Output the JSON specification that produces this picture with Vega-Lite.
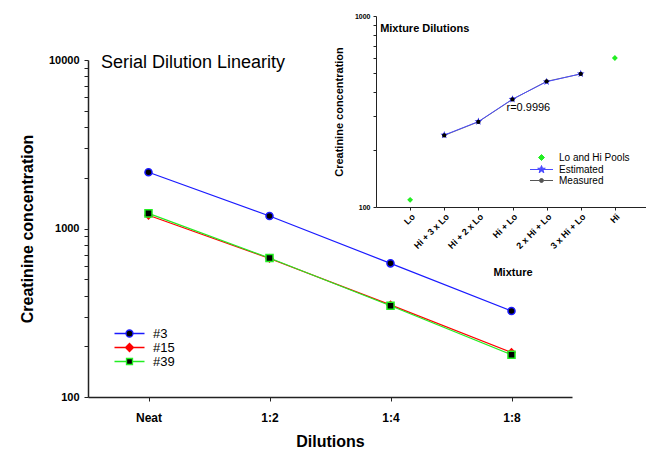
{
  "$schema": "https://vega.github.io/schema/vega-lite/v6.json",
  "width": 558,
  "height": 381,
  "autosize": {"type": "none"},
  "padding": {"left": 88, "top": 16, "right": 0, "bottom": 52},
  "background": "white",
  "title": {
    "text": "Serial Dilution Linearity",
    "anchor": "start",
    "frame": "group",
    "font": "Liberation Sans",
    "fontSize": 18,
    "fontWeight": "normal",
    "color": "black",
    "baseline": "middle",
    "offset": 0,
    "dx": 13,
    "dy": 69
  },
  "datasets": {
    "dil": [
      {"series": "#3", "dilution": "Neat", "value": 2157},
      {"series": "#3", "dilution": "1:2", "value": 1186},
      {"series": "#3", "dilution": "1:4", "value": 621},
      {"series": "#3", "dilution": "1:8", "value": 324},
      {"series": "#15", "dilution": "Neat", "value": 1198},
      {"series": "#15", "dilution": "1:2", "value": 664},
      {"series": "#15", "dilution": "1:4", "value": 352},
      {"series": "#15", "dilution": "1:8", "value": 184},
      {"series": "#39", "dilution": "Neat", "value": 1230},
      {"series": "#39", "dilution": "1:2", "value": 668},
      {"series": "#39", "dilution": "1:4", "value": 348},
      {"series": "#39", "dilution": "1:8", "value": 178}
    ],
    "mix": [
      {"kind": "Lo and Hi Pools", "mix": "Lo", "value": 109},
      {"kind": "Lo and Hi Pools", "mix": "Hi", "value": 603},
      {"kind": "Estimated", "mix": "Hi + 3 x Lo", "value": 238},
      {"kind": "Estimated", "mix": "Hi + 2 x Lo", "value": 280},
      {"kind": "Estimated", "mix": "Hi + Lo", "value": 367},
      {"kind": "Estimated", "mix": "2 x Hi + Lo", "value": 453},
      {"kind": "Estimated", "mix": "3 x Hi + Lo", "value": 498},
      {"kind": "Measured", "mix": "Hi + 3 x Lo", "value": 237},
      {"kind": "Measured", "mix": "Hi + 2 x Lo", "value": 279},
      {"kind": "Measured", "mix": "Hi + Lo", "value": 366},
      {"kind": "Measured", "mix": "2 x Hi + Lo", "value": 455},
      {"kind": "Measured", "mix": "3 x Hi + Lo", "value": 497}
    ],
    "notes": [
      {"label": "Mixture Dilutions", "mix": "Lo", "value": 855, "style": "head"},
      {"label": "r=0.9996", "mix": "Hi + Lo", "value": 330, "style": "note"}
    ]
  },
  "layer": [
    {
      "data": {"name": "dil"},
      "encoding": {
        "x": {
          "field": "dilution",
          "type": "ordinal",
          "scale": {"type": "point", "domain": ["Neat", "1:2", "1:4", "1:8"], "range": [0, 484], "padding": 0.5},
          "axis": {
            "orient": "bottom",
            "title": "Dilutions",
            "labelAngle": 0,
            "labelFontSize": 12,
            "labelPadding": 11,
            "titleFontSize": 16,
            "titlePadding": 10
          }
        },
        "y": {
          "field": "value",
          "type": "quantitative",
          "scale": {"type": "log", "domain": [100, 10000], "range": [381, 44]},
          "axis": {
            "orient": "left",
            "title": "Creatinine concentration",
            "values": [100, 200, 300, 400, 500, 600, 700, 800, 900, 1000, 2000, 3000, 4000, 5000, 6000, 7000, 8000, 9000, 10000],
            "labelExpr": "datum.value == 100 || datum.value == 1000 || datum.value == 10000 ? '' + datum.value : ''",
            "labelOverlap": false,
            "labelFontSize": 11,
            "labelPadding": 5,
            "titleFontSize": 16,
            "titlePadding": 13
          }
        }
      },
      "layer": [
        {
          "mark": {"type": "line", "strokeWidth": 1.2},
          "encoding": {
            "color": {
              "field": "series",
              "type": "nominal",
              "scale": {"domain": ["#3", "#15", "#39"], "range": ["#1a1aff", "#ff0000", "#22ee22"]},
              "legend": {
                "orient": "none",
                "legendX": 35,
                "legendY": 311,
                "title": null,
                "padding": 0,
                "labelFont": "Liberation Sans",
                "labelFontSize": 13,
                "labelColor": "black",
                "labelOffset": 17,
                "rowPadding": -1,
                "symbolSize": 100,
                "symbolStrokeWidth": 1.3,
                "encode": {
                  "symbols": {
                    "update": {
                      "shape": {"signal": "datum.value == '#3' ? 'M-3,0H-0.7M0.7,0H3M0.7,0A0.7,0.7,0,1,1,-0.7,0A0.7,0.7,0,1,1,0.7,0Z' : datum.value == '#15' ? 'M-3,0H-0.8M0.8,0H3M0,-0.8L0.8,0L0,0.8L-0.8,0Z' : 'M-3,0H-0.6M0.6,0H3M-0.6,-0.6H0.6V0.6H-0.6Z'"},
                      "fill": {"signal": "datum.value == '#15' ? '#ff0000' : '#000000'"},
                      "opacity": {"value": 1}
                    }
                  }
                }
              }
            }
          }
        },
        {
          "mark": {"type": "point", "filled": true, "size": 50, "strokeWidth": 1.5, "opacity": 1},
          "encoding": {
            "shape": {"field": "series", "type": "nominal", "scale": {"domain": ["#3", "#15", "#39"], "range": ["circle", "diamond", "square"]}, "legend": null},
            "fill": {"field": "series", "type": "nominal", "scale": {"domain": ["#3", "#15", "#39"], "range": ["#000000", "#ff0000", "#000000"]}, "legend": null},
            "stroke": {"field": "series", "type": "nominal", "scale": {"domain": ["#3", "#15", "#39"], "range": ["#1a1aff", "#ff0000", "#22ee22"]}, "legend": null}
          }
        }
      ]
    },
    {
      "encoding": {
        "x": {
          "field": "mix",
          "type": "ordinal",
          "scale": {"type": "point", "domain": ["Lo", "Hi + 3 x Lo", "Hi + 2 x Lo", "Hi + Lo", "2 x Hi + Lo", "3 x Hi + Lo", "Hi"], "range": [288, 561], "padding": 1},
          "axis": {
            "orient": "bottom",
            "offset": -190,
            "title": "Mixture",
            "labelAngle": -45,
            "labelAlign": "right",
            "labelBaseline": "top",
            "labelFontSize": 9,
            "labelPadding": 2,
            "tickSize": 3,
            "domainWidth": 1,
            "titleFontSize": 11,
            "titlePadding": 16
          }
        },
        "y": {
          "field": "value",
          "type": "quantitative",
          "scale": {"type": "log", "domain": [100, 1000], "range": [191, 0]},
          "axis": {
            "orient": "left",
            "offset": -288,
            "title": "Creatinine concentration",
            "values": [100, 200, 300, 400, 500, 600, 700, 800, 900, 1000],
            "labelExpr": "datum.value == 100 || datum.value == 1000 ? '' + datum.value : ''",
            "labelOverlap": false,
            "labelFontSize": 7,
            "labelPadding": 3,
            "tickSize": 3,
            "domainWidth": 1,
            "titleFontSize": 11,
            "titlePadding": 10
          }
        }
      },
      "layer": [
        {
          "data": {"name": "mix"},
          "transform": [{"filter": "datum.kind == 'Measured'"}],
          "mark": {"type": "line", "strokeWidth": 0.8},
          "encoding": {
            "color": {
              "field": "kind",
              "type": "nominal",
              "scale": {"domain": ["Lo and Hi Pools", "Estimated", "Measured"], "range": ["#22ee22", "#4a4aff", "#555555"]},
              "legend": {
                "orient": "none",
                "legendX": 448,
                "legendY": 136,
                "title": null,
                "padding": 0,
                "labelFont": "Liberation Sans",
                "labelFontSize": 10,
                "labelColor": "black",
                "labelOffset": 12,
                "rowPadding": 0,
                "symbolSize": 100,
                "symbolStrokeWidth": 1,
                "encode": {
                  "symbols": {
                    "update": {
                      "shape": {"signal": "datum.value == 'Lo and Hi Pools' ? 'M0,-0.6L0.6,0L0,0.6L-0.6,0Z' : datum.value == 'Estimated' ? 'M-2.3,0H2.3M0,-0.8L0.188,-0.259L0.761,-0.247L0.304,0.099L0.47,0.647L0,0.32L-0.47,0.647L-0.304,0.099L-0.761,-0.247L-0.188,-0.259Z' : 'M-2.3,0H-0.4M0.4,0H2.3M0.4,0A0.4,0.4,0,1,1,-0.4,0A0.4,0.4,0,1,1,0.4,0Z'"},
                      "fill": {"signal": "datum.value == 'Lo and Hi Pools' ? '#22ee22' : datum.value == 'Estimated' ? '#2020ee' : '#000000'"},
                      "stroke": {"signal": "datum.value == 'Lo and Hi Pools' ? '#22ee22' : datum.value == 'Estimated' ? '#4a4aff' : '#555555'"},
                      "opacity": {"value": 1}
                    }
                  }
                }
              }
            }
          }
        },
        {
          "data": {"name": "mix"},
          "transform": [{"filter": "datum.kind == 'Estimated'"}],
          "mark": {"type": "line", "strokeWidth": 1},
          "encoding": {"color": {"field": "kind", "type": "nominal"}}
        },
        {
          "data": {"name": "mix"},
          "transform": [{"filter": "datum.kind == 'Estimated'"}],
          "mark": {"type": "point", "shape": "M0,-1L0.235,-0.324L0.951,-0.309L0.38,0.124L0.588,0.809L0,0.4L-0.588,0.809L-0.38,0.124L-0.951,-0.309L-0.235,-0.324Z", "filled": true, "size": 64, "opacity": 1, "color": "#2020ee"},
          "encoding": {}
        },
        {
          "data": {"name": "mix"},
          "transform": [{"filter": "datum.kind == 'Measured'"}],
          "mark": {"type": "point", "shape": "circle", "filled": true, "size": 18, "opacity": 1, "color": "#000000"},
          "encoding": {}
        },
        {
          "data": {"name": "mix"},
          "transform": [{"filter": "datum.kind == 'Lo and Hi Pools'"}],
          "mark": {"type": "point", "shape": "diamond", "filled": true, "size": 35, "opacity": 1},
          "encoding": {"color": {"field": "kind", "type": "nominal"}}
        },
        {
          "data": {"name": "notes"},
          "transform": [{"filter": "datum.style == 'head'"}],
          "mark": {"type": "text", "align": "left", "baseline": "middle", "dx": -30, "font": "Liberation Sans", "fontSize": 11, "fontWeight": "bold", "color": "black"},
          "encoding": {"text": {"field": "label"}}
        },
        {
          "data": {"name": "notes"},
          "transform": [{"filter": "datum.style == 'note'"}],
          "mark": {"type": "text", "align": "left", "baseline": "middle", "dx": -6, "font": "Liberation Sans", "fontSize": 11, "color": "black"},
          "encoding": {"text": {"field": "label"}}
        }
      ]
    }
  ],
  "resolve": {
    "scale": {"x": "independent", "y": "independent", "color": "independent"},
    "axis": {"x": "independent", "y": "independent"},
    "legend": {"color": "independent"}
  },
  "config": {
    "font": "Liberation Sans",
    "view": {"stroke": null},
    "axis": {
      "grid": false,
      "domainColor": "#222222",
      "domainWidth": 1.5,
      "tickColor": "#222222",
      "tickWidth": 1,
      "tickSize": 4,
      "labelFont": "Liberation Sans",
      "labelFontWeight": "bold",
      "labelColor": "#000000",
      "titleFont": "Liberation Sans",
      "titleFontWeight": "bold",
      "titleColor": "#000000"
    }
  }
}
